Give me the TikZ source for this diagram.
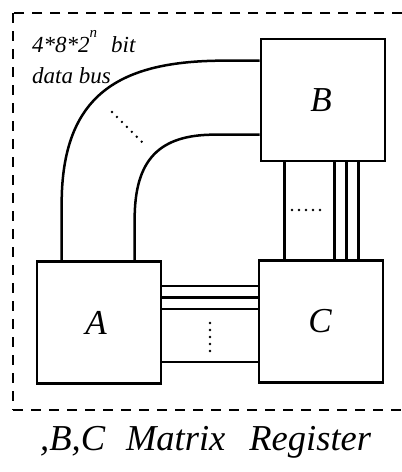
\documentclass[tikz,border=0pt]{standalone}
\usepackage{fontspec}
\setmainfont{Liberation Serif}
\usetikzlibrary{calc}
\begin{document}
\begin{tikzpicture}[x=1pt,y=-1pt,
  regbox/.style={draw,line width=2.7pt,minimum width=124pt,minimum height=122pt,
    inner sep=0pt,font=\fontsize{35}{35}\selectfont\itshape},
  wire/.style={line width=2.5pt},
  dotrow/.style={line width=2.6pt,line cap=round,dash pattern=on 0pt off 7pt},
  frame/.style={line width=2.2pt,dash pattern=on 10pt off 8pt},
  lbl/.style={anchor=base west,inner sep=0pt}]
\useasboundingbox (0,0) rectangle (402,472);

% dashed enclosure (open on the right)
\draw[frame] (402,13) -- (13,13);
\draw[frame] (13,13) -- (13,410);
\draw[frame] (13,410) -- (402,410);

% the three registers
\node[regbox] (B) at (323,100) {\kern-4pt B};
\node[regbox] (A) at (99,322.5) {\kern-6pt A};
\node[regbox] (C) at (321,321.5) {\kern-2pt C};

% bus from A up and over to B
\draw[wire] ([yshift=-23pt]B.north west) -- ++(-35,0)
  .. controls +(-105,0) and +(0,-110) .. ([xshift=26pt,yshift=56pt]A.north west)
  -- ([xshift=26pt]A.north west);
\draw[wire] ([yshift=-97pt]B.north west) -- ++(-45,0)
  .. controls +(-55,0) and +(0,-60) .. ([xshift=99pt,yshift=41pt]A.north west)
  -- ([xshift=99pt]A.north west);
\coordinate (d1) at (112,112);
\coordinate (d2) at (145,145);
\draw[dotrow] (d1) -- (d2);

% bus from B down to C
\foreach \dx in {25,75,87,99}
  \draw[wire] ([xshift=\dx pt]B.south west) -- ([xshift=\dx pt]B.south west |- C.north);
\coordinate (h1) at (292,210);
\coordinate (h2) at (321,210);
\draw[dotrow] (h1) -- (h2);

% bus from A across to C
\foreach \dy in {26,37.5,49,102}
  \draw[wire] ([yshift=-\dy pt]A.north east) -- ([yshift=-\dy pt]A.north east -| C.west);
\coordinate (v1) at (210,323);
\coordinate (v2) at (210,352);
\draw[dotrow] (v1) -- (v2);

% labels
\node[lbl,font=\fontsize{23}{23}\selectfont\itshape] (w) at (32,52)
  {4*8*2\raisebox{15pt}{\fontsize{15}{15}\selectfont n}\hspace{14pt}bit};
\node[lbl,font=\fontsize{23}{23}\selectfont\itshape] (db) at (32,83) {data bus};
\node[lbl,font=\fontsize{36.5}{36.5}\selectfont\itshape] (cap) at (40,450)
  {,B,C\hspace{21pt}Matrix\hspace{24pt}Register};
\end{tikzpicture}
\end{document}
